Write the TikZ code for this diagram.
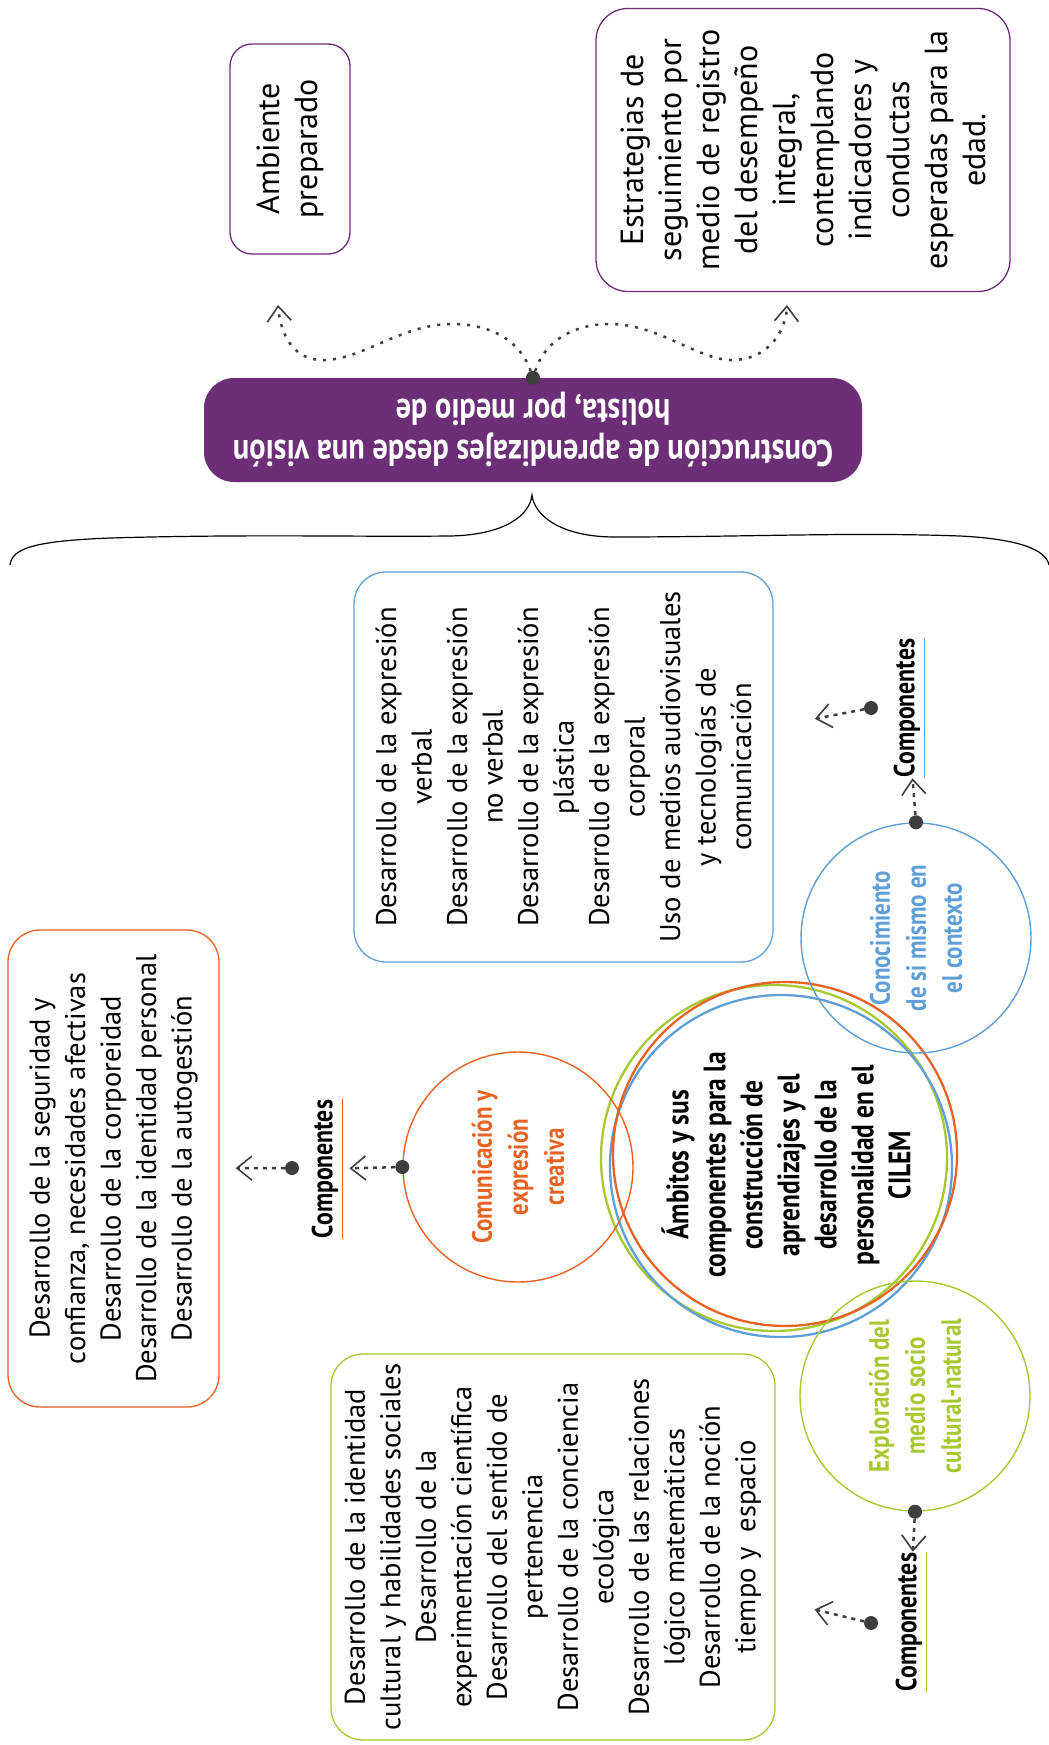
\documentclass[tikz,border=0pt]{standalone}
\usepackage{fontspec}
\setmainfont{PT Sans}
\newfontfamily\handfont[FakeStretch=0.82]{PT Sans}
\usetikzlibrary{arrows.meta}
\definecolor{cpurple}{RGB}{108,46,118}
\definecolor{corange}{RGB}{232,98,34}
\definecolor{cblue}{RGB}{96,158,215}
\definecolor{cgreen}{RGB}{166,201,50}
\definecolor{cdot}{RGB}{62,62,62}
\newcommand\bodyfont{\fontsize{28.5}{35.5}\selectfont}
\newcommand\topfont{\fontsize{32}{38}\selectfont}
\newcommand\handsize[2]{\handfont\bfseries\fontsize{#1}{#2}\selectfont}
\begin{document}
\begin{tikzpicture}[x=1pt,y=-1pt,
  every node/.style={inner sep=0pt},
  box/.style={draw=#1, line width=1.3pt, rounded corners=32pt, rotate=90, align=center, font=\bodyfont, text=black},
  topbox/.style={box=#1, font=\topfont},
  dotn/.style={circle, fill=cdot, minimum size=14pt, inner sep=0pt},
  tipped/.style={-{Straight Barb[length=15pt,width=24pt,line width=1.6pt]}},
  dotcon/.style={tipped, draw=cdot, line width=2.5pt, dash pattern=on 4pt off 5pt},
  dotcurve/.style={tipped, draw=cdot, line width=2.5pt, dash pattern=on 3pt off 7pt},
  ring/.style={circle, draw=#1, line width=1.4pt, minimum size=230pt, rotate=90, align=center, text=#1, font=\handsize{28}{36}},
  bigring/.style={circle, draw=#1, line width=2.3pt},
  comp/.style={rotate=90, font=\handsize{29}{29}, text=black, inner sep=1pt},
  uline/.style={draw=#1, line width=1.3pt}
]
\fill[white] (0,0) rectangle (1049,1745);
\useasboundingbox (0,0) rectangle (1049,1745);

% top boxes
\node[topbox=cpurple, rounded corners=22pt, minimum width=210pt, minimum height=120pt] (amb) at (290,149) {Ambiente\\preparado};
\node[topbox=cpurple, minimum width=283pt, minimum height=414pt] (est) at (803,150) {Estrategias de\\seguimiento por\\medio de registro\\del desempeño\\integral,\\contemplando\\indicadores y\\conductas\\esperadas para la\\edad.};

% banner
\node[fill=cpurple, rounded corners=30pt, rotate=180, minimum width=658pt, minimum height=104pt, text=white, align=center, font=\handsize{37}{41}] (ban) at (533,430) {Construcción de aprendizajes desde una visión\\holista, por medio de};
\node[dotn] (bdot) at (ban.south) {};
\coordinate (ambtip) at (278,305);
\coordinate (esttip) at (787,305);
\draw[dotcurve] (bdot) .. controls (520,340) and (490,324) .. (452,324) .. controls (400,324) and (360,362) .. (320,360) .. controls (290,358) and (280,330) .. (ambtip);
\draw[dotcurve] (bdot) .. controls (545,340) and (575,324) .. (610,324) .. controls (660,324) and (700,362) .. (735,360) .. controls (770,358) and (786,330) .. (esttip);

% brace
\draw[black, line width=1.2pt] (10,565) .. controls (12,548) and (35,541) .. (110,538) .. controls (250,534) and (350,537) .. (450,536) .. controls (505,535) and (530,515) .. (532,495) .. controls (534,515) and (560,537) .. (615,537) .. controls (750,537) and (850,532) .. (960,536) .. controls (1020,539) and (1046,550) .. (1049,565);

% content boxes
\node[box=cblue, minimum width=390pt, minimum height=419pt] (bbox) at (563.5,767) {Desarrollo de la expresión\\verbal\\Desarrollo de la expresión\\no verbal\\Desarrollo de la expresión\\plástica\\Desarrollo de la expresión\\corporal\\Uso de medios audiovisuales\\y tecnologías de\\comunicación};
\node[box=corange, minimum width=477pt, minimum height=211pt] (obox) at (113.5,1168.5) {Desarrollo de la seguridad y\\confianza, necesidades afectivas\\Desarrollo de la corporeidad\\Desarrollo de la identidad personal\\Desarrollo de la autogestión};
\node[box=cgreen, minimum width=386pt, minimum height=444pt] (gbox) at (553,1547) {Desarrollo de la identidad\\cultural y habilidades sociales\\Desarrollo de la\\experimentación científica\\Desarrollo del sentido de\\pertenencia\\Desarrollo de la conciencia\\ecológica\\Desarrollo de las relaciones\\lógico matemáticas\\Desarrollo de la noción\\tiempo y~ espacio};

% central rings
\node[bigring=cgreen, minimum size=346pt] (bigG) at (774,1158) {};
\node[bigring=cblue, minimum size=342pt] (bigB) at (781,1166) {};
\node[bigring=corange, minimum size=344pt] (bigO) at (785,1154) {};
\node[rotate=90, align=center, font=\handsize{31}{37}, text=black] (core) at (786,1165) {Ámbitos y sus\\componentes para la\\construcción de\\aprendizajes y el\\desarrollo de la\\personalidad en el\\CILEM};

% satellite rings
\node[ring=corange] (com) at (518,1167) {Comunicación y\\expresión\\creativa};
\node[ring=cblue] (kon) at (916,938) {Conocimiento\\de si mismo en\\el contexto};
\node[ring=cgreen] (exp) at (915,1396) {Exploración del\\medio socio\\cultural-natural};

% componentes labels
\node[comp] (compO) at (325,1169) {Componentes};
\node[comp] (compK) at (907,708) {Componentes};
\node[comp] (compE) at (909,1622) {Componentes};
\draw[uline=corange] ([xshift=3pt]compO.south west) -- ([xshift=3pt]compO.south east);
\draw[uline=cblue] ([xshift=3pt]compK.south west) -- ([xshift=3pt]compK.south east);
\draw[uline=cgreen] ([xshift=3pt]compE.south west) -- ([xshift=3pt]compE.south east);

% dots
\node[dotn] (dA) at (com.north) {};
\node[dotn] (dB) at (292,1168) {};
\node[dotn] (dC) at (kon.east) {};
\node[dotn] (dD) at (871,708) {};
\node[dotn] (dE) at (exp.west) {};
\node[dotn] (dF) at (871,1623) {};

% connectors
\draw[dotcon, shorten >=10pt] (dA) -- (compO);
\draw[dotcon, shorten >=16pt] (dB) -- (obox);
\draw[dotcon] (dC) -- (compK);
\draw[dotcon, shorten >=42pt] (dD) -- (bbox);
\draw[dotcon] (dE) -- (compE);
\draw[dotcon, shorten >=40pt] (dF) -- (gbox);
\end{tikzpicture}
\end{document}
